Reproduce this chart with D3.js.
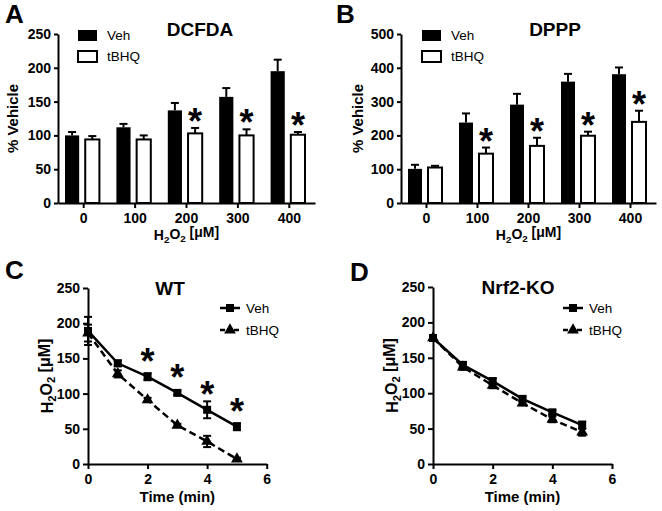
<!DOCTYPE html>
<html><head><meta charset="utf-8">
<script src="https://cdn.jsdelivr.net/npm/d3@7"></script>
<style>body{margin:0;background:#fff}svg{display:block}text{font-family:"Liberation Sans",Arial,sans-serif}</style>
</head><body>
<svg id="c" width="662" height="511"></svg>
<script>
// ---- data ----
const doseCats = ["0","100","200","300","400"];
const barSeries = ["Veh","tBHQ"];
const dcfdaVeh = [100,112,137,157,195];
const dcfdaVehErr = [5,5,11,13,17];
const dcfdaTbhq = [94,94,103,100,101];
const dcfdaTbhqErr = [5,6,8,9,4];
const dcfdaStars = [false,false,true,true,true];
const ppVeh = [101,238,291,359,381];
const ppVehErr = [12,27,32,23,20];
const ppTbhq = [105,146,169,199,240];
const ppTbhqErr = [5,18,24,12,33];
const ppStars = [false,true,true,true,true];
const barTicksA = [0,50,100,150,200,250];
const barTicksB = [0,100,200,300,400,500];

const times = [0,1,2,3,4,5];
const timeTicks = [0,2,4,6];
const lineTicks = [0,50,100,150,200,250];
const wtVeh = [189,143,124,101,77,53];
const wtVehErr = [20,4,5,3,12,5];
const wtTbhq = [186,128,91,55,32,7];
const wtTbhqErr = [12,5,3,2,8,2];
const wtStars = [false,false,true,true,true,true];
const koVeh = [178,140,117,92,73,55];
const koVehErr = [4,4,4,3,3,5];
const koTbhq = [178,137,111,86,63,45];
const koTbhqErr = [4,4,4,3,4,5];

const svg = d3.select("#c");
const F = '"Liberation Sans",Arial,sans-serif';

function h2o2(sel){ // appends H2O2 [μM] tspans
  sel.append("tspan").text("H");
  sel.append("tspan").text("2").attr("font-size","0.7em").attr("dy","0.3em");
  sel.append("tspan").text("O").attr("dy","-0.3em");
  sel.append("tspan").text("2").attr("font-size","0.7em").attr("dy","0.3em");
  sel.append("tspan").text(" [μM]").attr("dy","-0.3em");
}

function styleAxis(g){
  g.selectAll(".domain").attr("stroke","#000").attr("stroke-width",2);
  g.selectAll(".tick line").attr("stroke","#000").attr("stroke-width",2);
  g.selectAll(".tick text").attr("font-family",F).attr("font-weight","bold").attr("font-size",14).attr("fill","#000");
}

function barPanel(o){
  const x = d3.scaleBand().domain(doseCats).range([o.x0,o.x1]);
  const bw = x.bandwidth();
  const xs = d3.scaleBand().domain(barSeries).range([7,bw-10]).paddingInner(0.3);
  const y = d3.scaleLinear().domain([0,o.ymax]).range([o.yb,o.yt]);
  const g = svg.append("g");
  const ya = g.append("g").attr("transform",`translate(${o.x0},0)`)
    .call(d3.axisLeft(y).tickValues(o.ticks).tickSize(4).tickPadding(3).tickSizeOuter(0));
  styleAxis(ya);
  const xa = g.append("g").attr("transform",`translate(0,${o.yb})`)
    .call(d3.axisBottom(x).tickSize(5).tickPadding(5).tickSizeOuter(0));
  styleAxis(xa);
  const data = [o.veh, o.tb];
  const errs = [o.vehErr, o.tbErr];
  barSeries.forEach((s,si)=>{
    doseCats.forEach((c,i)=>{
      const bx = x(c)+xs(s), v = data[si][i], e = errs[si][i];
      const cx = bx + xs.bandwidth()/2;
      g.append("line").attr("x1",cx).attr("x2",cx).attr("y1",y(v)).attr("y2",y(v+e)).attr("stroke","#000").attr("stroke-width",2);
      g.append("line").attr("x1",cx-4).attr("x2",cx+4).attr("y1",y(v+e)).attr("y2",y(v+e)).attr("stroke","#000").attr("stroke-width",2);
      g.append("rect").attr("x",bx).attr("y",y(v)).attr("width",xs.bandwidth()).attr("height",y(0)-y(v))
        .attr("fill",si===0?"#000":"#fff").attr("stroke","#000").attr("stroke-width",si===0?0:2);
      if(si===1 && o.stars[i]){
        g.append("text").attr("x",cx).attr("y",y(v+e)-14+20).attr("text-anchor","middle")
          .attr("font-weight","bold").attr("font-size",36).text("*");
      }
    });
  });
  // legend
  barSeries.forEach((s,si)=>{
    const ly = o.yt + si*21;
    g.append("rect").attr("x",o.lx).attr("y",ly-4).attr("width",19).attr("height",11)
      .attr("fill",si===0?"#000":"#fff").attr("stroke","#000").attr("stroke-width",si===0?0:2);
    g.append("text").attr("x",o.lx+29).attr("y",ly+6).attr("font-size",13.5).text(s);
  });
  g.append("text").attr("x",o.tx).attr("y",o.yt+2).attr("text-anchor","middle").attr("font-weight","bold").attr("font-size",19).text(o.title);
  g.append("text").attr("x",o.lblX).attr("y",o.yt-11).attr("font-weight","bold").attr("font-size",26).text(o.label);
  g.append("text").attr("transform",`translate(${o.ylX},${(o.yt+o.yb)/2}) rotate(-90)`).attr("text-anchor","middle")
    .attr("font-weight","bold").attr("font-size",15).text("% Vehicle");
  const xt = g.append("text").attr("x",(o.x0+o.x1)/2).attr("y",o.yb+37).attr("text-anchor","middle").attr("font-weight","bold").attr("font-size",14);
  h2o2(xt);
}

function linePanel(o){
  const x = d3.scaleLinear().domain([0,6]).range([o.x0,o.x1]);
  const y = d3.scaleLinear().domain([0,250]).range([o.yb,o.yt]);
  const g = svg.append("g");
  const ya = g.append("g").attr("transform",`translate(${o.x0},0)`)
    .call(d3.axisLeft(y).tickValues(lineTicks).tickSize(5).tickPadding(3).tickSizeOuter(0));
  styleAxis(ya);
  const xa = g.append("g").attr("transform",`translate(0,${o.yb})`)
    .call(d3.axisBottom(x).tickValues(timeTicks).tickFormat(d3.format("d")).tickSize(5).tickPadding(5).tickSizeOuter(0));
  styleAxis(xa);
  const line = d3.line().x((d,i)=>x(times[i])).y(d=>y(d));
  const sq = d3.symbol().type(d3.symbolSquare).size(64);
  const tri = d3.symbol().type(d3.symbolTriangle).size(60);
  const ser = [{v:o.tb,e:o.tbErr,dash:"7,4",sym:tri},{v:o.veh,e:o.vehErr,dash:null,sym:sq}];
  ser.forEach(s=>{
    g.append("path").attr("d",line(s.v)).attr("fill","none").attr("stroke","#000").attr("stroke-width",2.5)
      .attr("stroke-dasharray",s.dash);
    s.v.forEach((v,i)=>{
      const cx = x(times[i]);
      const e = s.e[i];
      g.append("line").attr("x1",cx).attr("x2",cx).attr("y1",y(v-e)).attr("y2",y(v+e)).attr("stroke","#000").attr("stroke-width",2);
      [v-e,v+e].forEach(w=>g.append("line").attr("x1",cx-4).attr("x2",cx+4).attr("y1",y(w)).attr("y2",y(w)).attr("stroke","#000").attr("stroke-width",2));
      g.append("path").attr("d",s.sym()).attr("transform",`translate(${cx},${y(v)})`).attr("fill","#000");
    });
  });
  if(o.stars){
    o.veh.forEach((v,i)=>{
      if(o.stars[i]) g.append("text").attr("x",x(times[i])).attr("y",y(v)-23+20).attr("text-anchor","middle")
        .attr("font-weight","bold").attr("font-size",36).text("*");
    });
  }
  // legend
  [{n:"Veh",s:ser[1]},{n:"tBHQ",s:ser[0]}].forEach((d,i)=>{
    const ly = o.ly + i*22;
    g.append("line").attr("x1",o.lx).attr("x2",o.lx+20).attr("y1",ly).attr("y2",ly).attr("stroke","#000").attr("stroke-width",2.5)
      .attr("stroke-dasharray",d.s.dash?"5,2":null);
    g.append("path").attr("d",d.s.sym()).attr("transform",`translate(${o.lx+10},${ly})`).attr("fill","#000");
    g.append("text").attr("x",o.lx+26).attr("y",ly+5).attr("font-size",13.5).text(d.n);
  });
  g.append("text").attr("x",o.tx).attr("y",o.yt+7).attr("text-anchor","middle").attr("font-weight","bold").attr("font-size",19).text(o.title);
  g.append("text").attr("x",o.lblX).attr("y",o.lblY).attr("font-weight","bold").attr("font-size",26).text(o.label);
  const yt = g.append("text").attr("transform",`translate(${o.ylX},${(o.yt+o.yb)/2}) rotate(-90)`).attr("text-anchor","middle")
    .attr("font-weight","bold").attr("font-size",16);
  h2o2(yt);
  g.append("text").attr("x",(o.x0+o.x1)/2).attr("y",o.yb+38).attr("text-anchor","middle").attr("font-weight","bold").attr("font-size",15).text("Time (min)");
}

barPanel({x0:58,x1:315,yt:34,yb:203,ymax:250,ticks:barTicksA,veh:dcfdaVeh,vehErr:dcfdaVehErr,tb:dcfdaTbhq,tbErr:dcfdaTbhqErr,
  stars:dcfdaStars,lx:78,tx:200,title:"DCFDA",label:"A",lblX:5,ylX:18});
barPanel({x0:401,x1:656,yt:34,yb:203,ymax:500,ticks:barTicksB,veh:ppVeh,vehErr:ppVehErr,tb:ppTbhq,tbErr:ppTbhqErr,
  stars:ppStars,lx:422,tx:555,title:"DPPP",label:"B",lblX:336,ylX:363});
linePanel({x0:88,x1:266.7,yt:288,yb:464,veh:wtVeh,vehErr:wtVehErr,tb:wtTbhq,tbErr:wtTbhqErr,stars:wtStars,
  lx:220,ly:308,tx:170,title:"WT",label:"C",lblX:5,lblY:279,ylX:53});
linePanel({x0:433,x1:612,yt:287,yb:464,veh:koVeh,vehErr:koVehErr,tb:koTbhq,tbErr:koTbhqErr,stars:null,
  lx:563,ly:308,tx:518,title:"Nrf2-KO",label:"D",lblX:350,lblY:281,ylX:398});
</script>
</body></html>
